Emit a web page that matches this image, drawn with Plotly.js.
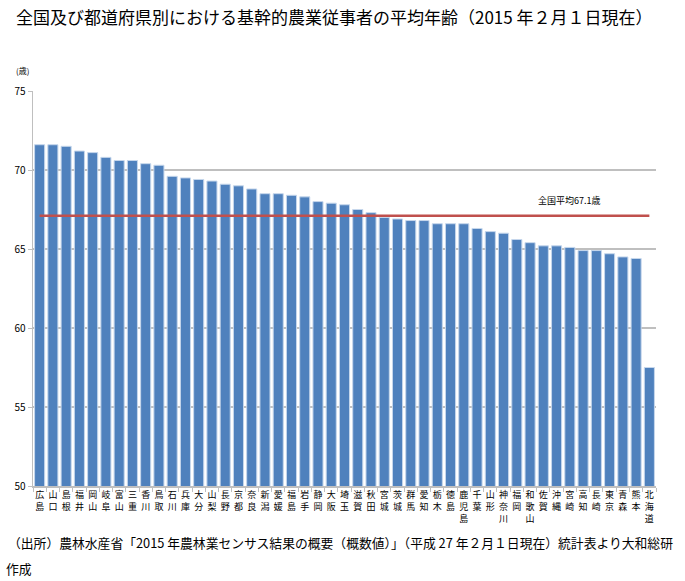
<!DOCTYPE html>
<html>
<head>
<meta charset="utf-8">
<script src="https://cdn.plot.ly/plotly-3.0.1.min.js"></script>
<style>
html,body{margin:0;padding:0;background:#fff;}
#chart{width:685px;height:581px;}
</style>
</head>
<body>
<div id="chart"></div>
<script>
const prefectures = ["広島","山口","島根","福井","岡山","岐阜","富山","三重","香川","鳥取","石川","兵庫","大分","山梨","長野","京都","奈良","新潟","愛媛","福島","岩手","静岡","大阪","埼玉","滋賀","秋田","宮城","茨城","群馬","愛知","栃木","徳島","鹿児島","千葉","山形","神奈川","福岡","和歌山","佐賀","沖縄","宮崎","高知","長崎","東京","青森","熊本","北海道"];
const averageAge = [71.6,71.6,71.5,71.2,71.1,70.8,70.6,70.6,70.4,70.3,69.6,69.5,69.4,69.3,69.1,69.0,68.8,68.5,68.5,68.4,68.3,68.0,67.9,67.8,67.5,67.3,67.0,66.9,66.8,66.8,66.6,66.6,66.6,66.3,66.1,66.0,65.6,65.4,65.2,65.2,65.1,64.9,64.9,64.7,64.5,64.4,57.5];
const nationalAverage = 67.1;
const yTicks = [50,55,60,65,70,75];
const titleText = "全国及び都道府県別における基幹的農業従事者の平均年齢（2015 年２月１日現在）";
const sourceText = "（出所）農林水産省「2015 年農林業センサス結果の概要（概数値）」（平成 27 年２月１日現在）統計表より大和総研";
const sourceText2 = "作成";
const avgLabel = "全国平均" + nationalAverage.toFixed(1) + "歳";

const FONT = "'Noto Sans CJK JP', 'Noto Sans', sans-serif";
const tickLabels = prefectures.map(p => p.split("").join("<br>"));

const traces = [
  {
    type: "bar",
    x: prefectures,
    y: averageAge,
    marker: {color: "#4F81BD", line: {color: "#C6D7EC", width: 1}},
    hoverinfo: "x+y"
  },
  {
    type: "scatter",
    mode: "lines",
    x: prefectures,
    y: prefectures.map(() => nationalAverage),
    line: {color: "#C0504D", width: 2.5},
    hoverinfo: "skip"
  }
];

const layout = {
  width: 685, height: 581,
  margin: {l: 33, r: 29, t: 91, b: 95},
  paper_bgcolor: "#fff", plot_bgcolor: "#fff",
  showlegend: false,
  bargap: 0.24,
  font: {family: FONT, color: "#000"},
  xaxis: {
    type: "category",
    tickvals: prefectures,
    ticktext: tickLabels,
    tickangle: 0,
    tickfont: {size: 9, color: "#000"},
    showgrid: false,
    showline: true, linecolor: "#BFBFBF", linewidth: 1.5,
    ticks: "outside", tickson: "boundaries", ticklen: 4, tickcolor: "#BFBFBF",
    range: [-0.5, prefectures.length - 0.5],
    fixedrange: true
  },
  yaxis: {
    range: [50, 75],
    tickvals: yTicks,
    tickfont: {size: 10, color: "#000"},
    showgrid: true, gridcolor: "#BFBFBF", gridwidth: 1.5,
    showline: true, linecolor: "#BFBFBF", linewidth: 1.5,
    ticks: "outside", ticklen: 4, tickcolor: "#BFBFBF",
    zeroline: false,
    fixedrange: true
  },
  annotations: [
    {text: titleText, xref: "paper", yref: "paper", x: -19/623, y: 1 + 74/395, xanchor: "left", yanchor: "middle", showarrow: false, font: {size: 17, family: FONT, color: "#000"}},
    {text: "(歳)", xref: "paper", yref: "paper", x: -19/623, y: 1 + 20/395, xanchor: "left", yanchor: "middle", showarrow: false, font: {size: 8, family: FONT, color: "#000"}},
    {text: avgLabel, xref: "x", yref: "y", x: prefectures[40], y: nationalAverage, yshift: 15, xanchor: "center", yanchor: "middle", showarrow: false, font: {size: 9, family: FONT, color: "#000"}},
    {text: sourceText, xref: "paper", yref: "paper", x: -27/623, y: -56/395, xanchor: "left", yanchor: "middle", showarrow: false, font: {size: 12.8, family: FONT, color: "#000"}},
    {text: sourceText2, xref: "paper", yref: "paper", x: -29/623, y: -82/395, xanchor: "left", yanchor: "middle", showarrow: false, font: {size: 12.8, family: FONT, color: "#000"}}
  ]
};

Plotly.newPlot("chart", traces, layout, {displayModeBar: false, staticPlot: true});
</script>
</body>
</html>
